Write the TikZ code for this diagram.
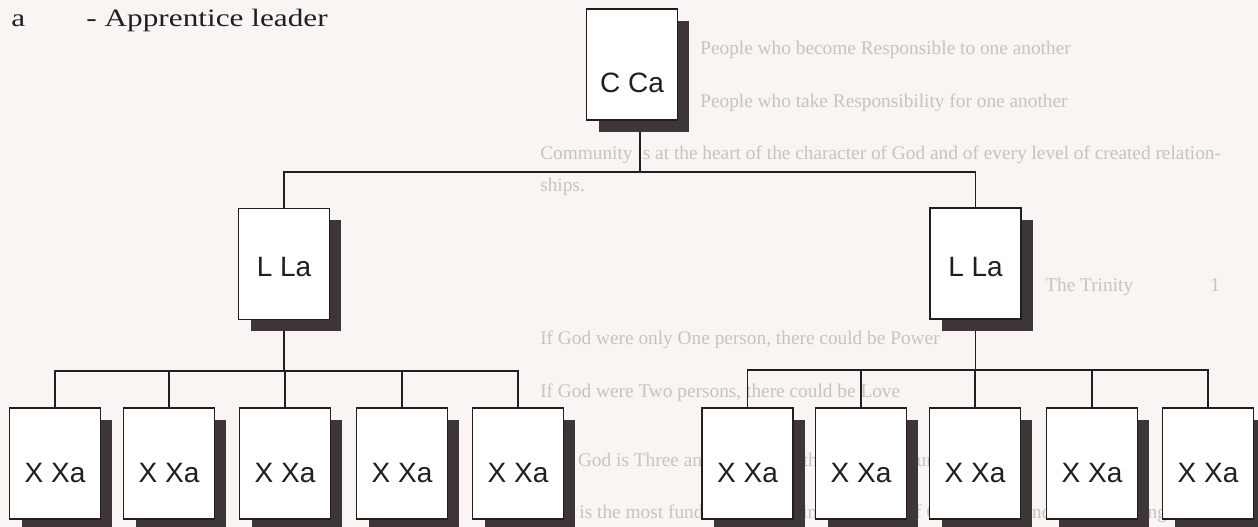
\documentclass[tikz,border=0pt]{standalone}
\usepackage{fontspec}
\setmainfont{Liberation Serif}
\newfontfamily\boxfont{Liberation Sans}
\newfontfamily\headfont[FakeStretch=1.25]{Liberation Serif}
\newfontfamily\faintfont{Liberation Serif}
\usetikzlibrary{shadows}
\pgfdeclarelayer{paperlayer}
\pgfdeclarelayer{wirelayer}
\pgfsetlayers{paperlayer,wirelayer,main}
\definecolor{paper}{RGB}{248,245,243}
\definecolor{ink}{RGB}{35,30,30}
\definecolor{shade}{RGB}{62,54,54}
\definecolor{faint}{RGB}{200,194,192}
\begin{document}
\begin{tikzpicture}[x=0.75pt,y=-0.75pt,
  unit/.style={draw=ink, fill=white, line width=1.1pt,
    minimum width=68pt, minimum height=83.25pt, inner sep=0pt,
    font=\boxfont\fontsize{21}{21}\selectfont, text=ink, text depth=0pt,
    drop shadow={shadow xshift=9pt, shadow yshift=-9pt, fill=shade, opacity=1}},
  cunit/.style={unit, text height=42pt},
  lunit/.style={unit, text height=19.5pt},
  xunit/.style={unit, text height=28.5pt},
  wire/.style={draw=ink, line width=1.2pt},
  heading/.style={anchor=base west, inner sep=0pt, text=ink,
    font=\headfont\fontsize{18.75}{18.75}\selectfont},
  backline/.style={anchor=base west, inner sep=0pt, text=faint,
    font=\faintfont\fontsize{14.5}{14.5}\selectfont}]

\useasboundingbox (0,0) rectangle (1258,527);
\clip (0,0) rectangle (1258,527);
\begin{pgfonlayer}{paperlayer}
  \fill[paper] (0,0) rectangle (1258,527);
  % text showing through from the facing page
  \node[backline] (b1) at (700,55) {People who become Responsible to one another};
  \node[backline] (b2) at (700,108) {People who take Responsibility for one another};
  \node[backline] (b3) at (540,160) {Community is at the heart of the character of God and of every level of created relation-};
  \node[backline] (b4) at (540,192) {ships.};
  \node[backline] (b5) at (1045,292) {The Trinity};
  \node[backline] (b5n) at (1210,292) {1};
  \node[backline] (b6) at (540,345) {If God were only One person, there could be Power};
  \node[backline] (b7) at (540,398) {If God were Two persons, there could be Love};
  \node[backline] (b8) at (545,467) {But God is Three and the Trinity there is Community};
  \node[backline] (b9) at (540,518) {This is the most fundamental and intimate unit of Community and is the building block of};
\end{pgfonlayer}

% legend line
\node[heading] (legend) at (11,27) {a\hspace{46pt}- Apprentice leader};

% community leader
\node[cunit] (C) at (632,64.5) {C Ca};

% leaders
\node[lunit] (L1) at (284,264) {L La};
\node[lunit] (L2) at (975.5,263.5) {L La};

% cell members, left group
\node[xunit] (X1) at (55,463.5) {X Xa};
\node[xunit] (X2) at (169,463.5) {X Xa};
\node[xunit] (X3) at (285,463.5) {X Xa};
\node[xunit] (X4) at (402,463.5) {X Xa};
\node[xunit] (X5) at (518,463.5) {X Xa};
% cell members, right group
\node[xunit] (Y1) at (747.5,463.5) {X Xa};
\node[xunit] (Y2) at (861,463.5) {X Xa};
\node[xunit] (Y3) at (975,463.5) {X Xa};
\node[xunit] (Y4) at (1092,463.5) {X Xa};
\node[xunit] (Y5) at (1208,463.5) {X Xa};

\begin{pgfonlayer}{wirelayer}
  \coordinate (topbar) at ([xshift=6pt]C.south |- 0,172);
  \draw[wire] ([xshift=6pt]C.south) -- (topbar);
  \draw[wire] (L1.north) |- (topbar) -| (L2.north);

  \coordinate (leftbar) at (L1.south |- 0,371);
  \draw[wire] (L1.south) -- (leftbar);
  \draw[wire] (X1.north) |- (leftbar) -| (X5.north);
  \draw[wire] (X2.north) -- (X2.north |- leftbar);
  \draw[wire] (X3.north) -- (X3.north |- leftbar);
  \draw[wire] (X4.north) -- (X4.north |- leftbar);

  \coordinate (rightbar) at (L2.south |- 0,370);
  \draw[wire] (L2.south) -- (rightbar);
  \draw[wire] (Y1.north) |- (rightbar) -| (Y5.north);
  \draw[wire] (Y2.north) -- (Y2.north |- rightbar);
  \draw[wire] (Y3.north) -- (Y3.north |- rightbar);
  \draw[wire] (Y4.north) -- (Y4.north |- rightbar);
\end{pgfonlayer}
\end{tikzpicture}
\end{document}
